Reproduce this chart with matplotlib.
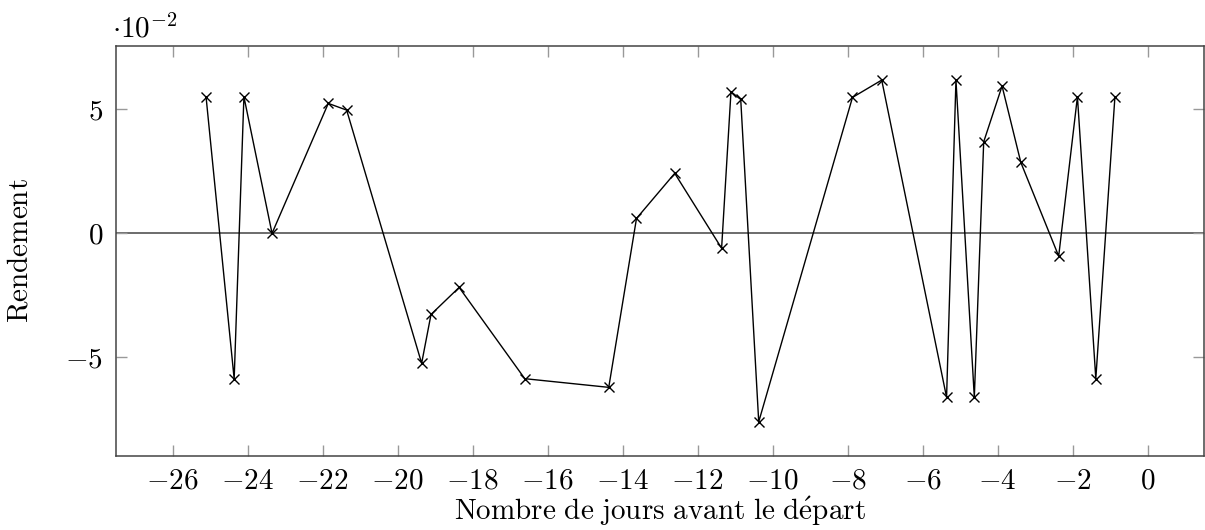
import matplotlib
matplotlib.use("Agg")
import matplotlib.pyplot as plt
from matplotlib.ticker import FixedLocator, FuncFormatter

plt.rcParams['mathtext.fontset'] = 'cm'
plt.rcParams['font.family'] = ['cmr10', 'DejaVu Serif']
plt.rcParams['axes.unicode_minus'] = False

# jours avant le départ et rendement observé
jours = [-25.11, -24.36, -24.10, -23.35, -21.85, -21.36, -19.36, -19.11, -18.36,
         -16.61, -14.37, -13.63, -12.61, -11.36, -11.11, -10.85, -10.37, -7.87,
         -7.09, -5.36, -5.11, -4.62, -4.37, -3.88, -3.38, -2.37, -1.87, -1.38, -0.87]
rendement = [0.0551, -0.0587, 0.0551, 0.0000, 0.0524, 0.0497, -0.0524, -0.0327, -0.0218,
             -0.0586, -0.0621, 0.0060, 0.0242, -0.0060, 0.0571, 0.0540, -0.0760, 0.0548,
             0.0618, -0.0661, 0.0618, -0.0661, 0.0369, 0.0594, 0.0286, -0.0092, 0.0551,
             -0.0586, 0.0551]
xticks = list(range(-26, 1, 2))
yticks = [-0.05, 0.0, 0.05]

fs = 21
fig = plt.figure(figsize=(12.05, 5.3), dpi=100)
ax = fig.add_axes([0.096, 0.140, 0.903, 0.773])

ax.axhline(0, color='#444444', lw=1.1, zorder=1)
ax.plot(jours, rendement, color='black', lw=1.0, marker='x', ms=6.5, mew=1.0, zorder=2)

ax.set_xlim(-27.52, 1.5)
ax.set_ylim(-0.0897, 0.0755)
ax.xaxis.set_major_locator(FixedLocator(xticks))
ax.yaxis.set_major_locator(FixedLocator(yticks))
ax.xaxis.set_major_formatter(FuncFormatter(lambda v, p: r'$%d$' % round(v)))
ax.yaxis.set_major_formatter(FuncFormatter(lambda v, p: r'$%d$' % round(v * 100)))
ax.tick_params(direction='in', length=8, width=1.0, color='#999999',
               top=True, right=True, labelsize=fs, pad=9)
for s in ax.spines.values():
    s.set_color('#444444')
    s.set_linewidth(1.1)

fig.text(0.5479, 1 - 520 / 530, r'$\mathrm{Nombre\ de\ jours\ avant\ le\ d\acute{e}part}$',
         ha='center', va='baseline', fontsize=fs)
fig.text(20 / 1205, 1 - 251 / 530, r'$\mathrm{Rendement}$', rotation=90,
         ha='center', va='center', fontsize=fs)
fig.text(112 / 1205, 1 - 37 / 530, r'$\cdot 10^{-2}$', ha='left', va='baseline', fontsize=fs)

fig.savefig('out.png', dpi=100)
